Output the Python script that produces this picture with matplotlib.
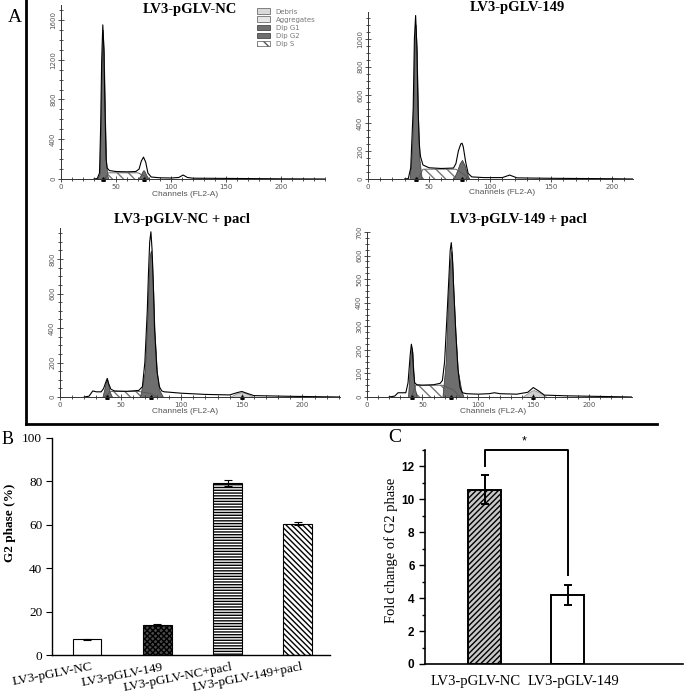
import matplotlib
matplotlib.use('Agg')
import matplotlib.pyplot as plt
from matplotlib.patches import Patch
from matplotlib.ticker import MultipleLocator
from matplotlib.lines import Line2D
from matplotlib.transforms import ScaledTranslation, blended_transform_factory

W, H = 685, 700
SERIF = 'Liberation Serif'
SANS = 'Liberation Sans'

# ---- panel A: flow cytometry histograms ----
titles = ['LV3-pGLV-NC', 'LV3-pGLV-149', 'LV3-pGLV-NC + pacl', 'LV3-pGLV-149 + pacl']

nc_ch = [30, 33, 35, 36, 37, 38, 39, 40, 41, 42, 44, 50, 60, 68, 71, 73, 75, 77, 79, 82, 90, 100, 107, 111, 115, 120, 150, 200, 240]
nc_cnt = [0, 5, 60, 500, 1200, 1550, 1300, 700, 200, 110, 85, 75, 72, 75, 100, 180, 220, 170, 60, 20, 12, 10, 15, 40, 15, 8, 6, 2, 0]
nc_g1_ch = [33, 35, 36, 37, 38, 39, 40, 41, 42, 43]
nc_g1 = [0, 50, 480, 1150, 1500, 1250, 650, 180, 40, 0]
nc_g2_ch = [70, 72, 74, 75, 76, 78, 80]
nc_g2 = [0, 30, 75, 90, 75, 30, 0]
nc_s_ch = [40, 43, 70, 76, 79]
nc_s = [0, 62, 62, 30, 0]

m149_ch = [30, 33, 35, 37, 38, 39, 40, 41, 42, 43, 45, 50, 60, 70, 72, 74, 76, 77, 78, 80, 82, 85, 95, 110, 116, 122, 150, 200, 217]
m149_cnt = [0, 3, 80, 500, 1000, 1165, 950, 500, 250, 160, 100, 80, 75, 78, 110, 200, 250, 255, 230, 120, 40, 15, 10, 10, 28, 8, 5, 2, 0]
m149_g1_ch = [34, 36, 37, 38, 39, 40, 41, 42, 44]
m149_g1 = [0, 200, 480, 950, 1100, 900, 450, 150, 0]
m149_g2_ch = [70, 73, 75, 77, 79, 81, 83]
m149_g2 = [0, 60, 110, 136, 100, 40, 0]
m149_s_ch = [41, 45, 72, 79, 83]
m149_s = [0, 70, 70, 30, 0]

ncp_ch = [20, 24, 27, 30, 34, 36, 38, 39, 40, 42, 45, 55, 65, 68, 70, 72, 73, 74, 75, 76, 77, 78, 80, 82, 84, 86, 90, 100, 120, 140, 146, 150, 154, 160, 190, 231]
ncp_cnt = [0, 5, 35, 30, 30, 50, 90, 108, 80, 45, 35, 33, 38, 60, 200, 500, 720, 900, 958, 850, 650, 400, 150, 60, 35, 30, 28, 22, 15, 12, 25, 32, 22, 8, 4, 0]
ncp_g1_ch = [35, 37, 38, 39, 40, 41, 43]
ncp_g1 = [0, 60, 90, 100, 70, 30, 0]
ncp_g2_ch = [66, 70, 72, 73, 74, 75, 76, 77, 78, 80, 82, 85]
ncp_g2 = [0, 150, 450, 650, 820, 850, 780, 600, 380, 140, 40, 0]
ncp_s_ch = [37, 42, 65, 75, 80]
ncp_s = [0, 32, 32, 20, 0]
ncp_agg_ch = [140, 146, 150, 154, 160]
ncp_agg = [0, 22, 28, 20, 0]

m149p_ch = [20, 25, 28, 35, 37, 39, 40, 41, 42, 43, 45, 50, 60, 66, 68, 70, 72, 74, 75, 76, 77, 78, 80, 82, 84, 86, 90, 100, 110, 115, 120, 135, 145, 150, 155, 160, 180, 239]
m149p_cnt = [0, 4, 18, 18, 60, 180, 224, 200, 110, 60, 52, 50, 52, 58, 70, 150, 330, 520, 620, 655, 600, 480, 280, 120, 40, 18, 14, 12, 14, 18, 14, 12, 20, 40, 25, 8, 5, 0]
m149p_g1_ch = [37, 39, 40, 41, 42, 43, 45]
m149p_g1 = [0, 160, 210, 190, 100, 40, 0]
m149p_g2_ch = [68, 71, 73, 75, 76, 77, 78, 80, 82, 85, 87]
m149p_g2 = [0, 150, 400, 580, 620, 570, 450, 260, 110, 30, 0]
m149p_s_ch = [40, 44, 68, 78, 84]
m149p_s = [0, 50, 50, 30, 0]
m149p_agg_ch = [140, 146, 150, 155, 162]
m149p_agg = [0, 20, 30, 20, 0]

peak_marks = [[38, 75], [39, 77], [39, 75, 150], [41, 76, 150]]

# ---- panel B ----
b_labels = ['LV3-pGLV-NC', 'LV3-pGLV-149', 'LV3-pGLV-NC+pacl', 'LV3-pGLV-149+pacl']
b_values = [7.3, 13.7, 79.3, 60.5]
b_errors = [0.3, 0.5, 1.5, 0.6]

# ---- panel C ----
c_labels = ['LV3-pGLV-NC', 'LV3-pGLV-149']
c_values = [10.6, 4.2]
c_errors = [0.9, 0.6]


def add_px_axes(fig, l, t, r, b):
    return fig.add_axes([l / W, 1 - b / H, (r - l) / W, (b - t) / H])


def px_shift(fig, dx, dy):
    return ScaledTranslation(dx / 100, dy / 100, fig.dpi_scale_trans)


fig = plt.figure(figsize=(W / 100, H / 100), dpi=100)

# histogram panels: (left, top, right, bottom) in px, xlim, ylim, ymajor, yminor
hist_boxes = [
    ((61, 5, 325, 179), 240, 1750, 400, 100),
    ((368, 12, 633, 179), 217, 1190, 200, 50),
    ((60, 228, 340, 397), 231, 980, 200, 50),
    ((367, 232, 632, 397), 239, 700, 100, 25),
]
hist_data = [
    (nc_ch, nc_cnt, nc_g1_ch, nc_g1, nc_g2_ch, nc_g2, nc_s_ch, nc_s, None, None),
    (m149_ch, m149_cnt, m149_g1_ch, m149_g1, m149_g2_ch, m149_g2, m149_s_ch, m149_s, None, None),
    (ncp_ch, ncp_cnt, ncp_g1_ch, ncp_g1, ncp_g2_ch, ncp_g2, ncp_s_ch, ncp_s, ncp_agg_ch, ncp_agg),
    (m149p_ch, m149p_cnt, m149p_g1_ch, m149p_g1, m149p_g2_ch, m149p_g2, m149p_s_ch, m149p_s, m149p_agg_ch, m149p_agg),
]
title_pos = [(190, 9), (517, 8), (182, 219), (518, 220)]
chan_pos = [(185, 194), (502, 193), (185, 411), (493, 411)]

for i in range(4):
    box, xmax, ymax, ymaj, ymin = hist_boxes[i]
    ch, cnt, g1c, g1, g2c, g2, sc, s, ac, a = hist_data[i]
    ax = add_px_axes(fig, *box)
    ax.fill_between(sc, s, color='white', hatch='\\\\\\', edgecolor='#777777', linewidth=0)
    ax.plot(sc, s, color='#555555', lw=0.6)
    if ac is not None:
        ax.fill_between(ac, a, color='#cfcfcf', edgecolor='#888888', linewidth=0.5)
    ax.fill_between(g1c, g1, color='#6e6e6e', edgecolor='#333333', linewidth=0.5)
    ax.fill_between(g2c, g2, color='#6e6e6e', edgecolor='#333333', linewidth=0.5)
    ax.plot(ch, cnt, color='black', lw=0.8)
    ax.plot(peak_marks[i], [0] * len(peak_marks[i]), '^', color='black', ms=2.5, clip_on=False)
    ax.set_xlim(0, xmax)
    ax.set_ylim(0, ymax)
    for sp in ['top', 'right']:
        ax.spines[sp].set_visible(False)
    for sp in ['left', 'bottom']:
        ax.spines[sp].set_linewidth(0.7)
        ax.spines[sp].set_color('#333333')
    ax.xaxis.set_major_locator(MultipleLocator(50))
    ax.xaxis.set_minor_locator(MultipleLocator(10))
    ax.yaxis.set_major_locator(MultipleLocator(ymaj))
    ax.yaxis.set_minor_locator(MultipleLocator(ymin))
    ax.tick_params(which='both', direction='inout', colors='#333333', labelcolor='#555555',
                   labelsize=5, width=0.6, pad=1)
    ax.tick_params(which='major', length=5)
    ax.tick_params(which='minor', length=2.5)
    for lab in ax.get_yticklabels():
        lab.set_rotation(90)
        lab.set_va('center')
    fig.text(title_pos[i][0] / W, 1 - title_pos[i][1] / H, titles[i], family=SERIF,
             fontweight='bold', fontsize=10.5, ha='center', va='center')
    fig.text(chan_pos[i][0] / W, 1 - chan_pos[i][1] / H, 'Channels (FL2-A)', family=SANS,
             fontsize=6, color='#555555', ha='center', va='center')
    if i == 0:
        handles = [Patch(facecolor='#d9d9d9', edgecolor='#555555', lw=0.5),
                   Patch(facecolor='#e6e6e6', edgecolor='#555555', lw=0.5),
                   Patch(facecolor='#6e6e6e', edgecolor='#333333', lw=0.5),
                   Patch(facecolor='#6e6e6e', edgecolor='#333333', lw=0.5),
                   Patch(facecolor='white', edgecolor='#555555', hatch='\\\\\\', lw=0.5)]
        ax.legend(handles, ['Debris', 'Aggregates', 'Dip G1', 'Dip G2', 'Dip S'],
                  loc='upper left', bbox_to_anchor=(254 / W, 1 - 5 / H),
                  bbox_transform=fig.transFigure, frameon=False, fontsize=5,
                  labelcolor='#777777', handlelength=1.8, handleheight=0.9,
                  labelspacing=0.25, handletextpad=0.8, borderpad=0)

# panel A frame
fig.add_artist(Line2D([26 / W, 26 / W], [1, 1 - 424 / H], color='black', lw=2))
fig.add_artist(Line2D([26 / W, 657 / W], [1 - 424 / H, 1 - 424 / H], color='black', lw=2))
fig.text(8 / W, 1 - 18 / H, 'A', family=SERIF, fontsize=14, ha='left', va='center')

# ---- panel B ----
axb = add_px_axes(fig, 52, 438, 330, 655)
xb = list(range(len(b_values)))
bars = axb.bar(xb, b_values, width=0.41, yerr=b_errors, capsize=3,
               color=['white', '#4a4a4a', 'white', 'white'], edgecolor='black', linewidth=0.8,
               error_kw=dict(elinewidth=0.8, capthick=0.8, ecolor='black'))
bars[1].set_hatch('xxxxxx')
bars[2].set_hatch('------')
bars[3].set_hatch('\\\\\\\\\\\\')
axb.set_xlim(-0.5, 3.46)
axb.set_ylim(0, 100)
axb.yaxis.set_major_locator(MultipleLocator(20))
axb.spines['top'].set_visible(False)
axb.spines['right'].set_visible(False)
axb.spines['left'].set_linewidth(1.0)
axb.spines['bottom'].set_linewidth(1.0)
axb.set_xticks([])
trans_b = blended_transform_factory(axb.transData, axb.transAxes) + px_shift(fig, 4, -6)
for x, lab in zip(xb, b_labels):
    axb.text(x, 0, lab, transform=trans_b, rotation=11, ha='right', va='top',
             rotation_mode='anchor', family=SERIF, fontsize=9.5)
axb.tick_params(axis='y', direction='out', length=4, labelsize=9.5, pad=3)
for lab in axb.get_yticklabels():
    lab.set_family(SERIF)
axb.set_ylabel('G2 phase (%)', family=SERIF, fontweight='bold', fontsize=9.5)
axb.yaxis.set_label_coords(-0.13, 0.61)
fig.text(2 / W, 1 - 439 / H, 'B', family=SERIF, fontsize=13, ha='left', va='center')

# ---- panel C ----
axc = add_px_axes(fig, 425, 450, 683, 664)
xc = list(range(len(c_values)))
cb = axc.bar(xc, c_values, width=0.40, yerr=c_errors, capsize=3,
             color=['#c8c8c8', 'white'], edgecolor='black', linewidth=1.4,
             error_kw=dict(elinewidth=1.4, capthick=1.4, ecolor='black'))
cb[0].set_hatch('//////')
axc.set_xlim(-0.72, 2.39)
axc.set_ylim(0, 13)
# significance bracket
sig_top = 13.0
sig_left = 12.0
sig_right = 5.4
axc.plot([0, 0, 1, 1], [sig_left, sig_top, sig_top, sig_right], color='black', lw=1.4, clip_on=False)
axc.text(0.47, sig_top + 0.15, '*', ha='center', va='bottom', fontsize=9, family=SANS)
axc.spines['top'].set_visible(False)
axc.spines['right'].set_visible(False)
axc.spines['left'].set_linewidth(1.2)
axc.spines['bottom'].set_linewidth(1.2)
axc.yaxis.set_major_locator(MultipleLocator(2))
axc.yaxis.set_minor_locator(MultipleLocator(1))
axc.set_xticks([])
shifts_c = [-9, 6]
for x, lab, dx in zip(xc, c_labels, shifts_c):
    tr = blended_transform_factory(axc.transData, axc.transAxes) + px_shift(fig, dx, -18)
    axc.text(x, 0, lab, transform=tr, ha='center', va='center', family=SERIF, fontsize=10.5)
axc.tick_params(axis='y', which='major', direction='out', length=4, width=1.0, labelsize=8.5)
axc.tick_params(axis='y', which='minor', direction='out', length=2.5, width=1.0)
for lab in axc.get_yticklabels():
    lab.set_family(SANS)
    lab.set_fontweight('bold')
axc.set_ylabel('Fold change of G2 phase', family=SERIF, fontsize=10.5)
axc.yaxis.set_label_coords(-0.105, 0.53)
fig.text(388 / W, 1 - 438 / H, 'C', family=SERIF, fontsize=14, ha='left', va='center')

plt.savefig('out.png', dpi=100)
